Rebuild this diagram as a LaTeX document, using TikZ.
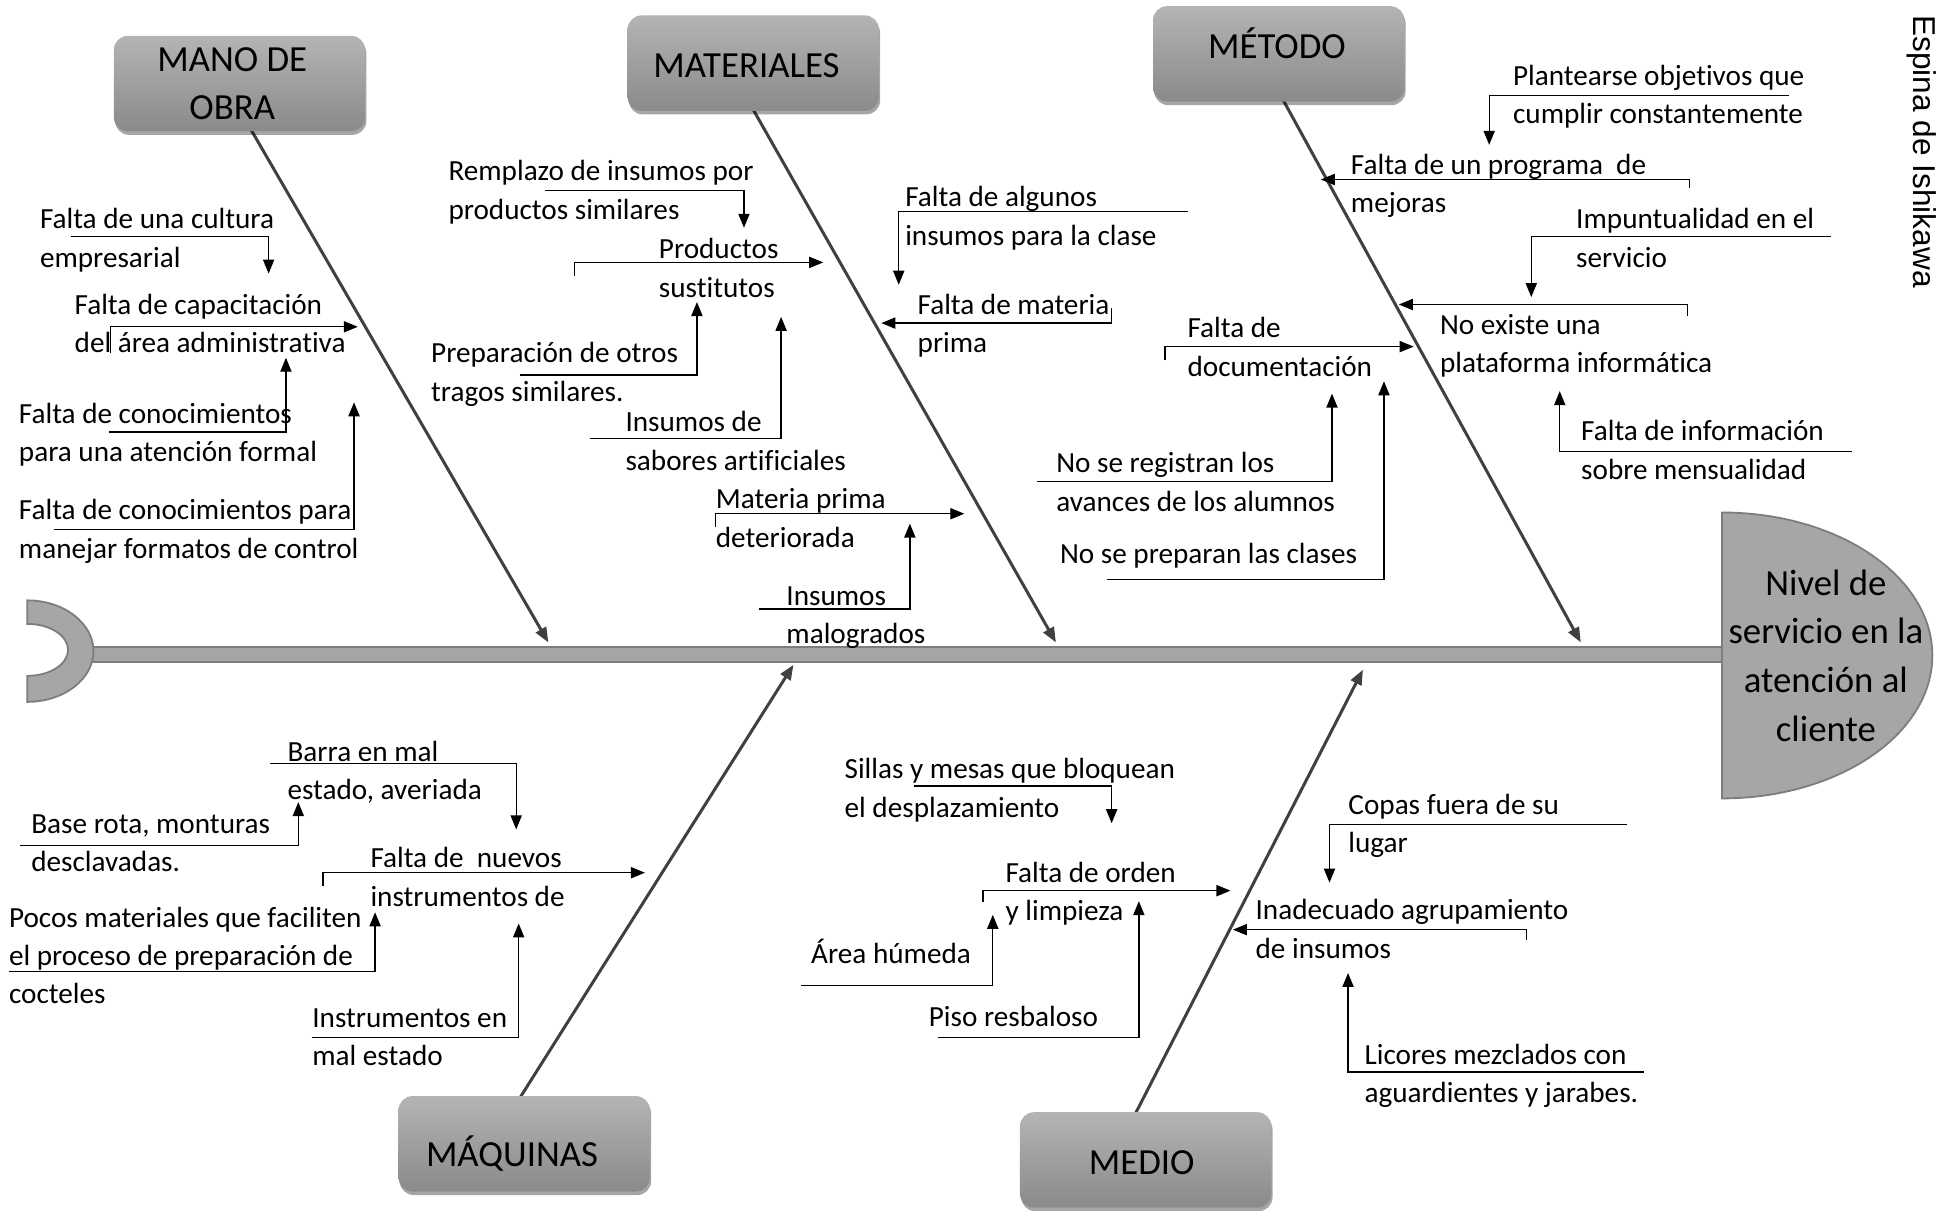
\documentclass[tikz,border=0pt]{standalone}
\usepackage{fontspec}
\setmainfont{Carlito}[Ligatures=NoCommon]
\newfontfamily\arialf{Liberation Sans}
\usetikzlibrary{arrows.meta,shadows}
\definecolor{boxtop}{RGB}{180,180,180}
\definecolor{boxbot}{RGB}{138,138,138}
\definecolor{spinefill}{RGB}{166,166,166}
\definecolor{spinedraw}{RGB}{125,125,125}
\definecolor{catline}{RGB}{64,64,64}
\tikzset{
  lbl/.style={font=\fontsize{14.6}{19.2}\selectfont, align=left, inner sep=0pt, anchor=base west},
  cattext/.style={font=\fontsize{18.4}{23.8}\selectfont, align=center, inner sep=0pt, anchor=base},
  catbox/.style={rounded corners=7pt, top color=boxtop, bottom color=boxbot, draw=none,
     minimum width=125.7pt, minimum height=47.7pt, inner sep=0pt,
     drop shadow={shadow xshift=0.6pt, shadow yshift=-1.8pt, opacity=0.35, fill=black}},
  catarrow/.style={draw=catline, line width=1.5pt, -{Triangle[length=7.5pt,width=5.8pt]}},
  conn/.style={draw=black, line width=0.65pt, -{Triangle[length=7pt,width=5.6pt]}},
  spine/.style={fill=spinefill, draw=spinedraw, line width=0.9pt},
}
\begin{document}
\begin{tikzpicture}[x=0.619pt,y=-0.619pt]
\useasboundingbox (0,0) rectangle (1568,978);

% spine
\fill[spinefill] (60,522.5) rectangle (1395,534.5);
\draw[spinedraw, line width=0.9pt] (60,522.5) -- (1392,522.5) (60,534.5) -- (1392,534.5);
\path[spine] (22,485) arc[start angle=-90,end angle=90,x radius=53.5,y radius=41]
   -- (22,546) arc[start angle=90,end angle=-90,x radius=33,y radius=21] -- cycle;
\path[spine] (1391,414) arc[start angle=-90,end angle=90,x radius=170,y radius=115.5] -- cycle;
\node[font=\fontsize{18.4}{24.4}\selectfont, align=center, inner sep=0pt, anchor=base] (effect) at (1475,599)
  {Nivel de\\servicio en la\\atención al\\cliente};

% category arrows
\coordinate (s1) at (443,519);
\coordinate (s2) at (853,519);
\coordinate (s3) at (1277,519);
\coordinate (s4) at (641,537);
\coordinate (s5) at (1101,541);
\draw[catarrow] (200,100) -- (s1);
\draw[catarrow] (607,86) -- (s2);
\draw[catarrow] (1035,78) -- (s3);
\draw[catarrow] (418,890) -- (s4);
\draw[catarrow] (916,902) -- (s5);

% category boxes
\node[catbox] (mano) at (193.5,67.5) {};
\node[catbox] (mat) at (608.5,51) {};
\node[catbox] (met) at (1033,43.5) {};
\node[catbox] (maq) at (423.5,924) {};
\node[catbox] (medio) at (925.5,937) {};
\node[cattext] (manoT) at (187.6,96.4) {MANO DE\\OBRA};
\node[cattext] (matT) at (603,62.5) {MATERIALES};
\node[cattext] (metT) at (1031.6,47) {MÉTODO};
\node[cattext] (maqT) at (413.6,942) {MÁQUINAS};
\node[cattext] (medioT) at (922.3,949) {MEDIO};

\node[font=\arialf\fontsize{15.8}{19}\selectfont, rotate=-90, inner sep=0pt] (title) at (1552,122.5) {Espina de Ishikawa};

% labels (anchor = baseline of the last line)
\node[lbl] (l1) at (32,216) {Falta de una cultura\\empresarial};
\node[lbl] (l2) at (60,285) {Falta de capacitación\\del área administrativa};
\node[lbl] (l3) at (15,373) {Falta de conocimientos\\para una atención formal};
\node[lbl] (l4) at (15,451) {Falta de conocimientos para\\manejar formatos de control};
\node[lbl] (l5) at (362,177) {Remplazo de insumos por\\productos similares};
\node[lbl] (l6) at (532,240) {Productos\\sustitutos};
\node[lbl] (l7) at (348,324) {Preparación de otros\\tragos similares.};
\node[lbl] (l8) at (505,380) {Insumos de\\sabores artificiales};
\node[lbl] (l9) at (578,442) {Materia prima\\deteriorada};
\node[lbl] (l10) at (635,520) {Insumos\\malogrados};
\node[lbl] (l11) at (731,198) {Falta de algunos\\insumos para la clase};
\node[lbl] (l12) at (741,285) {Falta de materia\\prima};
\node[lbl] (l13) at (1222,100) {Plantearse objetivos que\\cumplir constantemente};
\node[lbl] (l14) at (1091,172) {Falta de un programa\ \ de\\mejoras};
\node[lbl] (l15) at (1273,216) {Impuntualidad en el\\servicio};
\node[lbl] (l16) at (1163,301) {No existe una\\plataforma informática};
\node[lbl] (l17) at (1277,387) {Falta de información\\sobre mensualidad};
\node[lbl] (l18) at (959,304) {Falta de\\documentación};
\node[lbl] (l19) at (853,413) {No se registran los\\avances de los alumnos};
\node[lbl] (l20) at (856,455) {No se preparan las clases};
\node[lbl] (l21) at (232,646) {Barra en mal\\estado, averiada};
\node[lbl] (l22) at (25,704) {Base rota, monturas\\desclavadas.};
\node[lbl] (l23) at (299,732) {Falta de\ \ nuevos\\instrumentos de};
\node[lbl] (l24) at (7,811) {Pocos materiales que faciliten\\el proceso de preparación de\\cocteles};
\node[lbl] (l25) at (252,861) {Instrumentos en\\mal estado};
\node[lbl] (l26) at (682,660) {Sillas y mesas que bloquean\\el desplazamiento};
\node[lbl] (l27) at (812,744) {Falta de orden\\y limpieza};
\node[lbl] (l28) at (655,778) {Área húmeda};
\node[lbl] (l29) at (750,829) {Piso resbaloso};
\node[lbl] (l30) at (1089,689) {Copas fuera de su\\lugar};
\node[lbl] (l31) at (1014,774) {Inadecuado agrupamiento\\de insumos};
\node[lbl] (l32) at (1102,891) {Licores mezclados con\\aguardientes y jarabes.};

% connectors
\draw[conn] (57,191) -- (217,191) -- (217,221) coordinate (a1);
\draw[conn] (89,285) -- (89,264) -- (289,264) coordinate (a2);
\draw[conn] (88,349) -- (231,349) -- (231,289) coordinate (a3);
\draw[conn] (44,428) -- (286,428) -- (286,325) coordinate (a4);
\draw[conn] (440,154) -- (601,154) -- (601,184) coordinate (a5);
\draw[conn] (464,223) -- (464,212) -- (665,212) coordinate (a6);
\draw[conn] (420,303) -- (563,303) -- (563,244) coordinate (a7);
\draw[conn] (477,354) -- (631,354) -- (631,256) coordinate (a8);
\draw[conn] (578,426) -- (578,415) -- (779,415) coordinate (a9);
\draw[conn] (613,492) -- (735,492) -- (735,423) coordinate (a10);
\draw[conn] (960,171) -- (726,171) -- (726,230) coordinate (a11);
\draw[conn] (898,249) -- (898,261) -- (712,261) coordinate (a12);
\draw[conn] (1445,77) -- (1203,77) -- (1203,117) coordinate (a13);
\draw[conn] (1365,152) -- (1365,145) -- (1067,145) coordinate (a14);
\draw[conn] (1479,191) -- (1237,191) -- (1237,240) coordinate (a15);
\draw[conn] (1363,255) -- (1363,246) -- (1130,246) coordinate (a16);
\draw[conn] (1496,365) -- (1260,365) -- (1260,316) coordinate (a17);
\draw[conn] (941,291) -- (941,280) -- (1142,280) coordinate (a18);
\draw[conn] (838,389) -- (1076,389) -- (1076,318) coordinate (a19);
\draw[conn] (894,468) -- (1118,468) -- (1118,308) coordinate (a20);
\draw[conn] (218,617) -- (417,617) -- (417,670) coordinate (a21);
\draw[conn] (16,683) -- (241,683) -- (241,648) coordinate (a22);
\draw[conn] (261,716) -- (261,705) -- (521,705) coordinate (a23);
\draw[conn] (7,785) -- (303,785) -- (303,737) coordinate (a24);
\draw[conn] (252,838) -- (419,838) -- (419,746) coordinate (a25);
\draw[conn] (738,635) -- (898,635) -- (898,665) coordinate (a26);
\draw[conn] (794,729) -- (794,719.5) -- (994,719.5) coordinate (a27);
\draw[conn] (647,796) -- (802,796) -- (802,739) coordinate (a28);
\draw[conn] (758,838) -- (920,838) -- (920,728) coordinate (a29);
\draw[conn] (1314,666) -- (1074,666) -- (1074,713) coordinate (a30);
\draw[conn] (1233,759) -- (1233,751) -- (996,751) coordinate (a31);
\draw[conn] (1328,866) -- (1089,866) -- (1089,786) coordinate (a32);
\end{tikzpicture}
\end{document}
